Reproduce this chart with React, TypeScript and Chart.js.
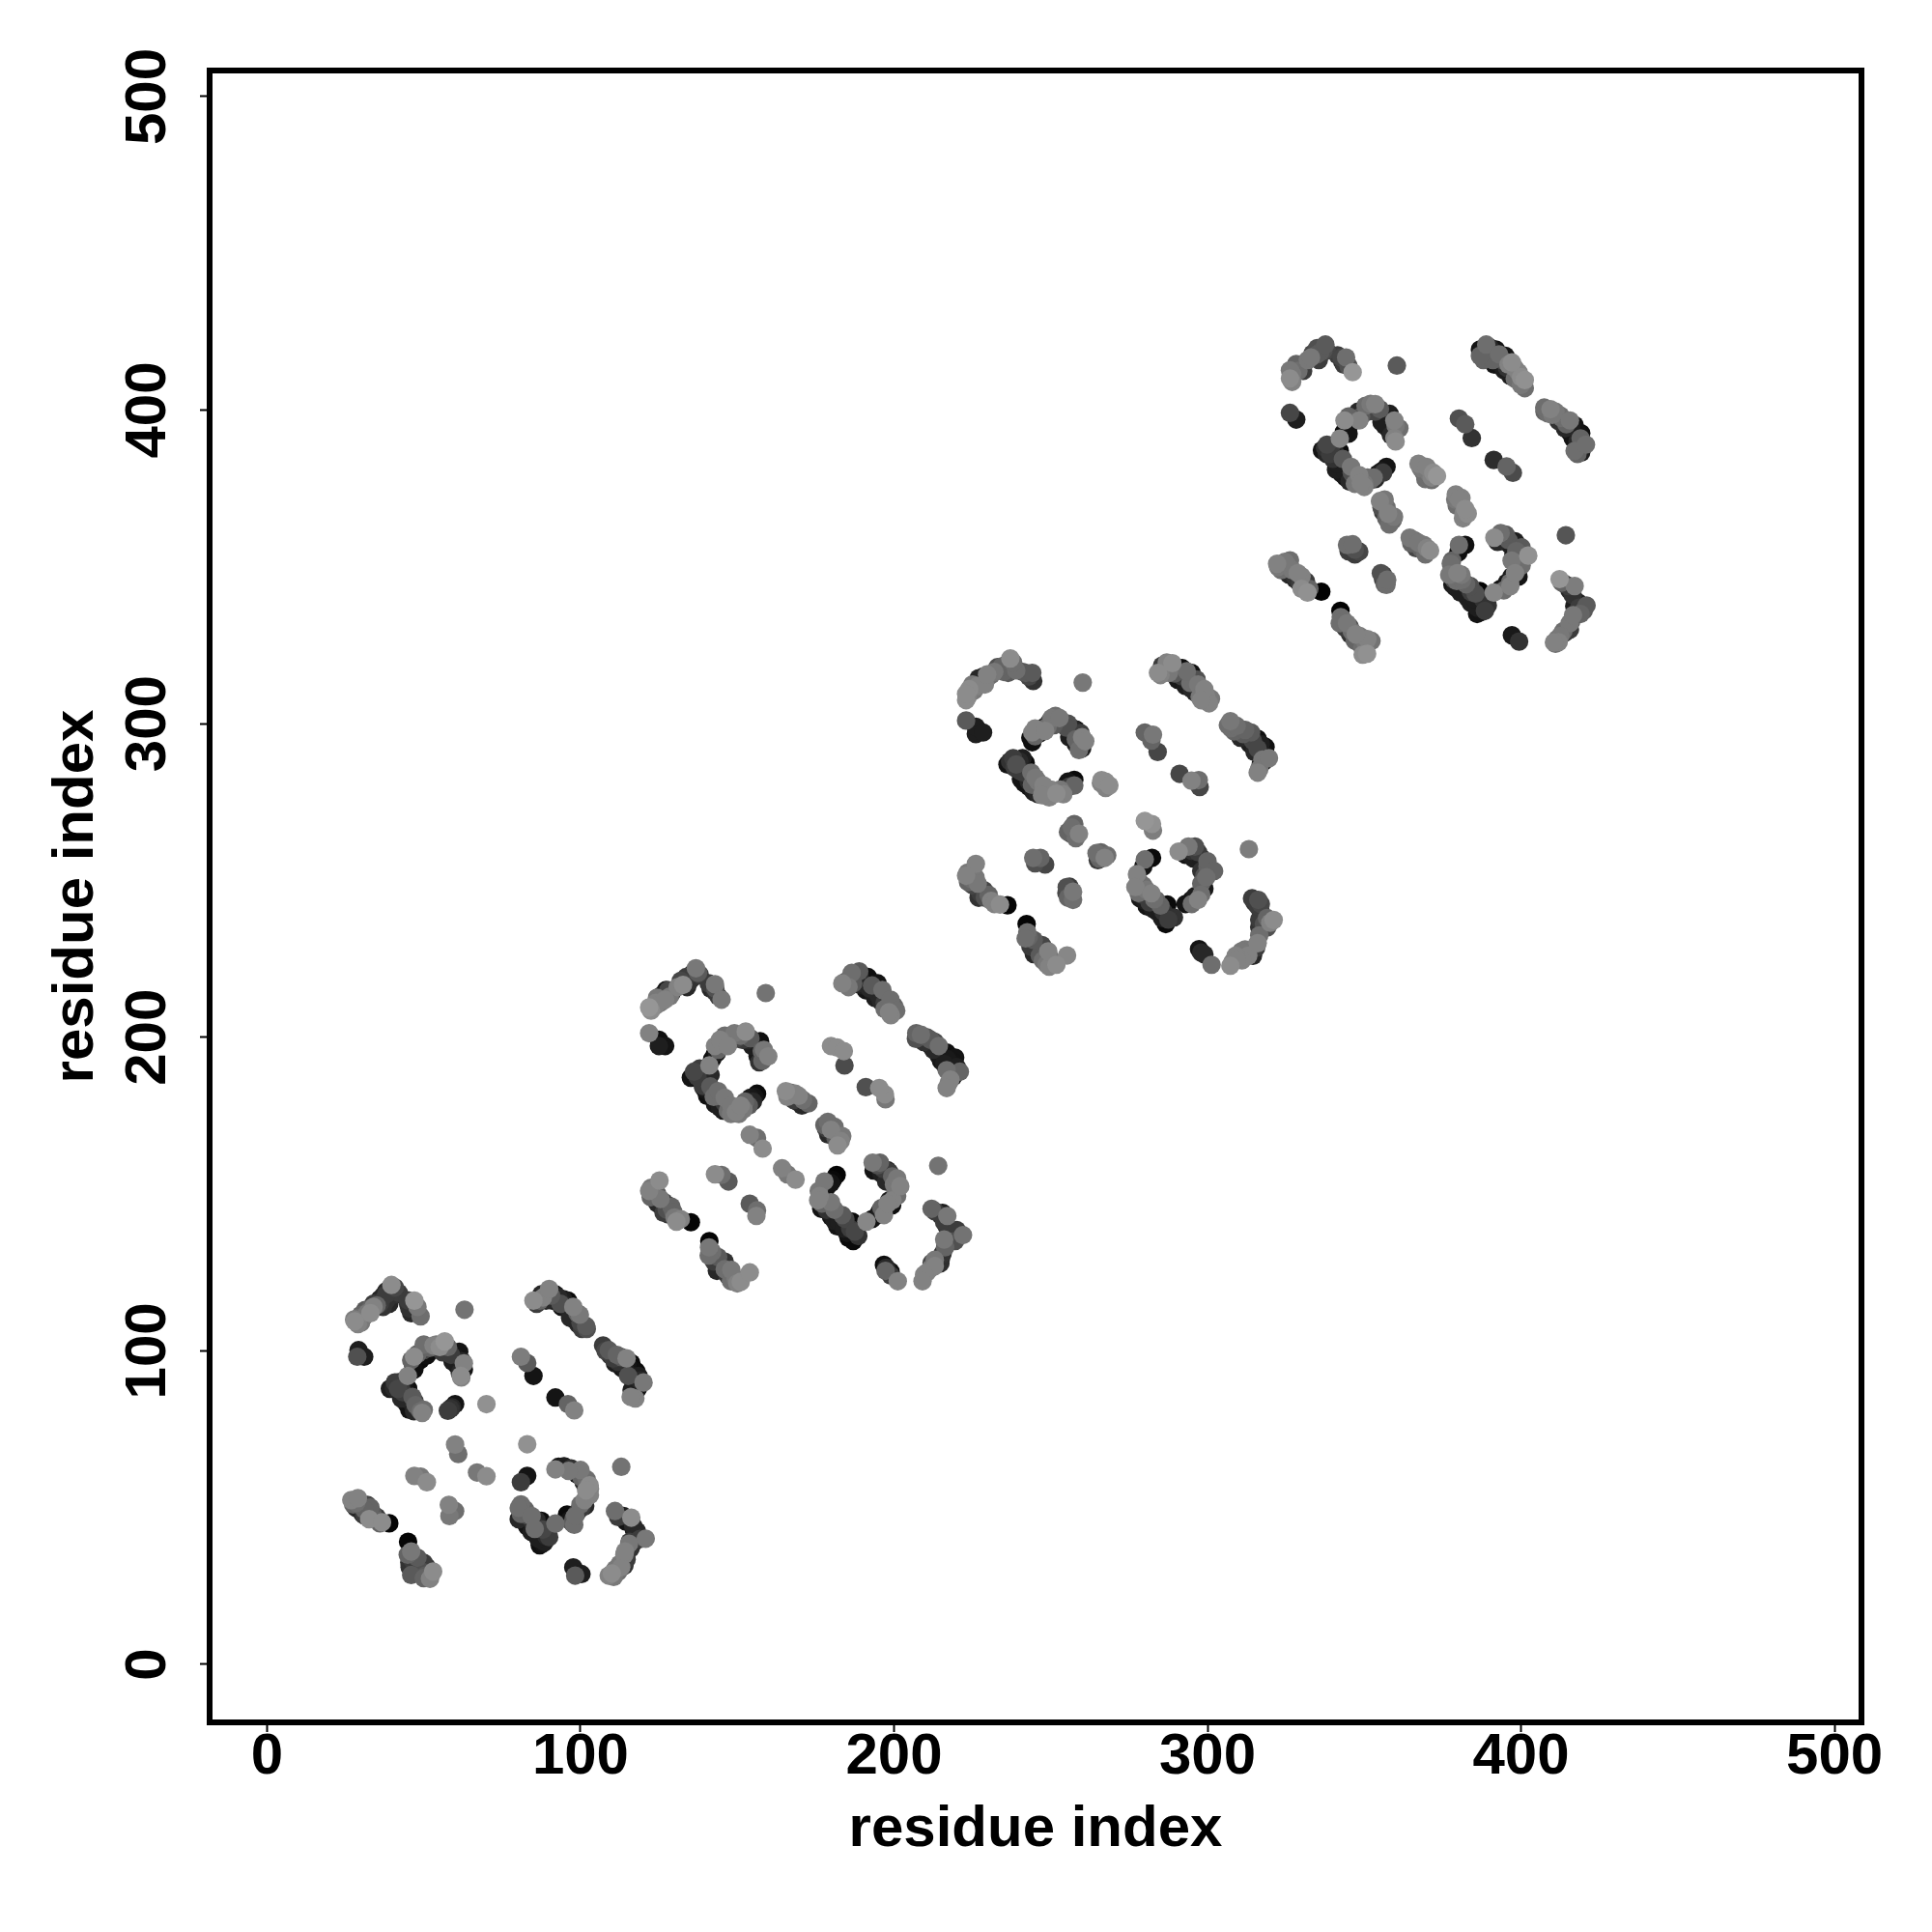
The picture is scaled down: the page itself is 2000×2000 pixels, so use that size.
import React, { useEffect, useRef } from "react";
import { Chart, registerables } from "chart.js";

Chart.register(...registerables);

const tickValues = [0, 100, 200, 300, 400, 500];
const axisTitle = "residue index";

// [residue x, residue y, grey level] : the points lying beneath
const underA: number[][] = [
  [29,108.5,130],[30,109,120],[31,111,110],[32,112,120],[33,113.5,100],[34,115,60],[36,116.5,30],[38,119,40],[39,119,30],[41,118,50],[42,118.5,60],[37,114,50],[39,115,40],[45,115,50],[46,112,40],[48,114,120],
  [42,90,50],[43,88.5,30],[44,89,20],[43,85.5,20],[44.5,85,40],[46,83.5,30],[47,84,60],[48,82,80],[45,88,15],[47,94,15],[46,97,100],[48,99,100],[51,98.5,15],[52,101,100],[54,102,120],[56,99.5,60],[58,100,50],[60,98,25],[60.5,95.5,20],[61.5,93,40],[62,91.5,130],[50,102,110],[59,82,40],[58.5,81.5,50],
  [89,116,40],[91,116,30],[93,117,40],[94,114,20],[95,114.5,40],[97,112,30],[98,110,40],[99,112,100],[100,109,70],[100.5,107,60],[102,107,80],[94.5,116.5,30],[86,115,60],[87,116,100],
  [108,100,70],[109.5,98.5,50],[111,96,30],[112,96.5,50],[113,98,90],[114.5,93.5,30],[115,95.5,20],[116.5,91,15],[116.5,94,15],[118.5,92,30],[119,90.5,40],[117,86,30],[117.5,84.8,130],
  [27.5,51,100],[28.5,51.5,110],[30,51,60],[30.5,48,30],[32,48,40],[34,46.5,100],[35,47,60],[36,45,100],[33,50,100],[31,47.5,60],
  [45.5,31,50],[46.5,33,60],[47,31,30],[49,31,40],[49.5,29.5,80],[51,31,50],[50,27.5,100],[46,36,120],[46,28.5,90],
  [93,63,20],[95,63,30],[97,62.5,50],[99,60.5,25],[100,62,120],[101,58,40],[103,56,130],[103,54,130],[101.5,50.5,40],[100,51,110],[99,48.5,60],[96.5,46,20],[97.5,45,90],[98,44.5,110],[102,59,110],
  [81,51,110],[81,48,100],[83,47.5,70],[83,44,20],[85,45,50],[86,46,40],[86,43,30],[87,42,20],[88,43,70],[88.5,39,30],[89,41,40],[87,38,15],
  [112,47,60],[114.5,45.5,20],[117,43,30],[118,42.5,40],[119,40,60],[117,39,40],[116,37,50],[115.5,38.5,120],[114,35,130],[114,31.5,50],[112.5,32,120],[112,29.5,110],[110,29,140],[113,31,130],
];

const underB: number[][] = [
  [122.5,208.5,140],[124,211,130],[125.5,211,120],[126,213.5,30],[129,214,40],[128.5,213,120],[131,216,130],[132,218,70],[134,216,40],[135,218.5,30],[136,219,50],[137.5,220.5,90],[138,220,60],[141.5,215.5,40],[143,215.5,80],[144,213,60],
  [137,189,50],[138,190,60],[139,186,30],[139,184.5,60],[140.5,186,20],[141.5,188,40],[142,193,15],[143.5,195,30],[144,196,100],[145,198,20],[146,200.5,110],[148,199,40],[149.5,199.5,70],[151,200.5,110],[153,199,40],[155,197.5,30],[156,196.5,15],[156.5,194,25],[158,192.5,100],[158.5,196,120],[157,192,50],
  [140,183,20],[141.5,182,20],[142.5,181,110],[144,180,30],[144.5,177.5,30],[146,179,60],[147,176.5,110],[148,175.5,120],[150.5,175.5,120],[152,177,120],[152.5,179.5,100],[155,179.5,40],[155.5,181,20],[147,178,30],
  [166,181,130],[168,180,60],[169,179.5,40],[171,180,110],[168.5,182,130],
  [177.8,172,100],[179,169,40],[181,168.5,60],[181,171.5,110],[182,165.5,140],[183.5,168.5,120],
  [185,218,60],[185.5,216,120],[186.5,220.5,110],[189,219.5,40],[188,217,40],[190,216.5,30],[191,215,20],[193,214.5,30],[193,216.5,90],[194,212.5,30],[195,213.5,40],[197,211,60],[197,209,110],[199,207,130],[200,210,100],
  [207,199.5,80],[209.5,198.5,50],[210.5,200,90],[211.5,197.5,30],[212.5,196,40],[213,198.5,70],[215,192.5,20],[216,191.5,30],[217,193,25],[219.5,193.5,20],[220,190.5,30],[218,186.5,130],[217.5,185.5,120],
  [122.5,152,120],[123,150,100],[124.5,150,90],[124.5,147,40],[126.5,147.5,60],[127.5,145,80],[129,146,100],[130,142.5,120],[132,142,130],[128,143.5,50],
  [141,133,120],[142,131.5,110],[142.5,128.5,60],[144,128,40],[145,127.5,40],[146,126,110],[147,124,60],[148.5,124,90],[149.5,123,120],[150,121.5,130],
  [176,151,120],[178.5,152,20],[180.5,154.5,10],[177,147,100],[178,147.5,60],[178.5,145,50],[179,144.5,30],[181,145,110],[181,141.5,30],[182.5,141,30],[183,140,20],[184.5,142,70],[184,139,30],[186,139,60],[185.5,136,10],[187.5,138,70],
  [193,142,20],[195.5,144.5,30],[196,145.5,100],[198.5,148,30],[199.5,148,130],[200.5,151,110],[200,153,120],[198.5,157,60],[196.5,158,60],[195.5,160,100],[193.5,157.5,20],[196,156.5,30],[201,155,120],
  [213,144.5,60],[215.5,144,30],[216,141,60],[217.5,138.5,50],[220,138.5,60],[219.5,135,80],[216,135.5,120],[215.5,131,50],[215,129.5,40],[213,129,120],[212,128,70],[210.5,125,130],[213,127,130],
  [197.5,126.5,40],[199,124,60],
];

const underC: number[][] = [
  [223.5,308.5,130],[224,311,140],[225,312.5,120],[226.5,312,130],[227,314.5,40],[228.5,315,20],[229,312.5,130],[231,315.5,110],[232,316.5,120],[233,318,80],[235,316.5,100],[236,319,90],[238,318,100],[239,317,110],[241,316.5,80],[243,315,70],
  [237,288,50],[238.5,286,60],[240,288,40],[241,289,30],[240,285,60],[241.5,281,20],[242.5,284,30],[243,281.5,40],[244,280.5,100],[245,279.5,30],[246,281.5,120],[246,277.5,40],[248.5,278.5,130],[249.5,276.5,130],[250,279,130],[253,279,120],[254,277.5,130],[255.5,281.5,20],[256,280,60],[253,278,100],
  [243.5,295.5,15],[245,296,100],[245,298.5,130],[246.5,297,15],[249,299,110],[249.5,300.5,60],[251,299.5,90],[251.5,302.5,110],[253.5,300.5,80],[255.5,300,80],[256.5,297,30],[257,298.5,40],[258,293.5,30],[258,295,100],[259.5,297,60],[257.5,296,30],
  [266,281,130],[267.5,281.5,140],[267.5,279.5,130],
  [255.5,265.5,100],[257.5,266,60],[258,263.5,110],[257.5,268,100],[265.5,257,100],[265,256.5,60],[266,259,100],[268,258,110],
  [245,255.5,80],[246,256,60],[247,256,60],[255,246,70],[256,245,60],[256,248,60],[255.5,244.5,100],
  [285.5,318.5,60],[285,315.5,130],[287,319.5,130],[288.5,317.5,30],[290,318,15],[289.5,316,90],[290.5,314,25],[292,315,60],[293,312,30],[294.5,313,110],[295,311,40],[297,312.5,120],[297.5,308.5,120],[299.5,309,130],[300.5,306.5,130],
  [306.5,299.5,110],[307.5,298.5,110],[308.5,297.5,100],[310,298.5,90],[310.5,295.5,40],[312,298,100],[313.5,293.5,30],[314.5,294.5,70],[315,291,40],[317,293.5,30],[318,290.5,20],[317.5,288.5,120],[318,288,30],[316.5,285.5,120],
  [223.5,252.5,120],[224.5,250.5,110],[225,248.5,70],[226,251,120],[226.5,247.5,50],[227.5,246,60],[229,244.5,80],[231,243.5,130],[232,242.5,130],
  [242.5,233.5,110],[243,232,100],[243.5,229,60],[245.5,229.5,50],[245.5,228,60],[246.5,226,90],[247.5,224.5,110],[250,225,120],[249.5,222.5,130],
  [278,250,110],[278,246,110],[279,245.5,60],[280.5,247,120],[280,243.5,30],[281.5,243,60],[282.5,241,30],[283,244,110],[284,240,30],[285,242,100],[285.5,238,30],[286,240,50],[287.5,237.5,60],
  [293,242.5,20],[295,242.5,110],[296,245,30],[298,245.5,110],[298,249,100],[299,251.5,80],[298,253,50],[300,254.5,100],[299,255,30],[297,259,60],[295,259.5,50],[294,258.5,30],[295.5,257,30],
  [315,243,50],[317,242.5,70],[317,240,60],[316.5,237.5,60],[319,238,100],[320,236.5,130],[319,235,80],[316.5,232.5,110],[315.5,228.5,60],[314.5,226,40],[313,226,130],[312,228,120],[311,224.5,130],[309,226,130],[308,224,130],
  [298,227,40],
];

const underD: number[][] = [
  [327,409,130],[327,411.5,120],[329,412.5,110],[330.5,412.5,60],[331,415,50],[332,416,120],[333.5,418,70],[334,417,60],[335.5,416,60],[336,418.5,90],[337,419,80],[338,419,70],[341.5,417.5,60],[343.5,414.5,60],[345,414,80],[343,415.5,40],
  [337.5,388,50],[338,386,40],[339.5,388.5,60],[340,384.5,50],[340.5,387,40],[341,381,30],[342.5,383,20],[344,380.5,30],[344,378.5,20],[346,380,80],[346.5,378,30],[347,376.5,120],[350,376.5,120],[351,378.5,110],[350,375.5,130],[353,378.5,110],[353.5,378,40],[355.5,380.5,30],[356,380,60],
  [343.5,393,15],[345,392.5,20],[345,398,100],[346.5,396.5,15],[348,399.5,40],[349,398,90],[351,399.5,70],[352,402,120],[353.5,399.5,70],[355.5,398.5,30],[357,397.5,20],[356.5,395,30],[358,393.5,25],[360,395,120],[358.5,392,40],[360,390,140],
  [368,381.5,120],[369,380,100],[370.5,380,120],[371.5,378.5,130],[372,380,140],[369.5,378,110],
  [379,371.5,120],[381,370,110],[379.5,369.5,110],[381,372,130],[381.5,365.5,130],[383,367,140],
  [355.5,369,80],[356,367.5,60],[356.5,371.5,120],[357,365.5,100],[358,366,60],[358,363.5,110],[359.5,366,120],
  [365,357.5,100],[366,358.5,110],[366.5,356,70],[368,356,100],[369,357,120],[370,356,130],[369.5,354,110],
  [345,355,60],[347,355.5,80],[347,354,60],[356,346,60],[356,347.5,60],[356.5,344.5,100],
  [387.5,418,30],[388,416,100],[390,420,40],[390,417.5,30],[391,416,100],[391.5,414.5,20],[393,415,25],[394,416,80],[395.5,413.5,50],[396,414.5,130],[396.5,411,30],[398,413.5,130],[398,410,110],[400,408,120],[400,410.5,140],
  [407.5,399.5,100],[408.5,399,110],[410,398.5,120],[411,399.5,120],[412,396.5,50],[413,397.5,110],[414.5,395.5,100],[415.5,393,15],[416,394.5,30],[416.5,391,20],[418,393,20],[418,390,40],[419,388,30],[419,391,100],[418,386,100],
  [322.5,350,120],[323.5,349,110],[324,351,100],[325,349.5,80],[325.5,350.5,120],[326,347.5,40],[327,349,120],[328,346,40],[329.5,344.5,60],[330,347,130],[330,343,140],[332.5,343,100],
  [342.5,334,110],[343,333.5,110],[344,330.5,60],[344.5,332,120],[345.5,328.5,50],[346,329.5,110],[347,326.5,100],[348,326,40],[348.5,328,120],[349.5,322,140],[350.5,325.5,120],[351,327,130],
  [378,349,110],[378,352,100],[378.5,346,80],[379,343.5,30],[379.5,345.5,110],[381,347.5,120],[382,342,30],[382.5,344.5,100],[383,340,30],[384,342,60],[384,338.5,30],[385.5,341.5,80],[386,337,30],[386,335,20],[388,339.5,50],[388.5,336,60],
  [393.5,343,20],[394.5,342.5,110],[395.5,345,25],[396.5,345,110],[397,347,30],[399,349.5,90],[398.5,351,110],[397,352,120],[398.5,355,100],[396.5,357,30],[396,358.5,90],[394,360,80],[392.5,358,40],
  [413,345,100],[414,344.5,50],[415.5,342.5,40],[416.5,341,50],[417,337.5,30],[418.5,337,60],[420,336,90],[419,335,100],[416,332.5,100],[415.5,332,120],[414,329,60],[413.5,329.5,110],[411.5,327,120],[411,325.5,110],[412,326,130],
];

// [residue x, residue y, grey level] : the points lying on top
const contactsA: number[][] = [
  [28,109.4,140],[27.8,110,125],[29,110.4,110],[30,111.5,100],[31.3,113,90],[33,112,140],[34,114,130],[35,114.5,100],[36,115,60],[37,116,50],[37,117.5,40],[38,116,50],[38,118,60],[39.7,121,140],[40.8,120.2,70],
  [44.9,116.1,60],[45.4,113.5,50],[47.4,113,40],[47,116,150],[49,111,110],[63,113.1,115],
  [28.8,98.1,80],[29.2,100.2,30],[31,98.1,30],
  [39.2,87.9,30],[40.8,89.9,60],[40.5,88,40],[41.8,87.9,70],[43.3,86.8,60],[44.9,87.9,10],[44.9,92,130],[46.6,95.6,10],[46.9,98.1,140],[49,97.1,10],[50,100.2,70],[53.1,101.7,130],[55.1,101.2,140],[56.7,103,150],[57.7,101.2,100],[58.7,98.7,60],[61.3,99.7,20],[59.2,96.6,30],[62.3,96.6,40],[61.8,92,140],[62.8,94,20],[62.8,96,130],
  [42.8,84.8,40],[44.4,83.3,20],[46.4,85.3,90],[45.4,81.2,20],[46.9,80.7,40],[47.4,82.7,100],[49,80.7,110],[50,81.2,110],[49.5,80.2,130],
  [57.7,80.9,60],[60,83,20],[70,83,145],
  [60,70.1,130],[61,67.1,110],[47,60.1,130],[49,59.9,120],[51,58.1,140],[67,61.2,120],[70,60,140],[58,50.9,130],[58.2,47.3,120],[60,48.9,110],
  [83,70.2,145],[83,60.1,20],[81,58.1,60],[113,63,115],
  [81,98.1,125],[83,96.1,90],[85,92,20],[92,85.1,20],[96,83,100],[98,81,130],
  [85,116,140],[87.5,118,40],[88,117,130],[90,119.7,130],[90.6,117.6,90],[92,118,20],[93.6,115,80],[96,116,10],[95.7,113.5,30],[97.7,114,130],[96.7,110.5,40],[99.8,111.5,120],[99.3,108.4,40],[101.8,107.9,90],
  [107.2,101.7,60],[109,100.2,90],[110.5,97.5,60],[111.6,98.7,100],[114.7,97.6,130],[113.2,94.5,20],[116.2,96.1,10],[117.8,93.5,10],[115.2,92,80],[116,85.3,130],[116.3,87.5,30],[117.3,89.4,10],[118.3,87.9,20],[120.1,89.9,120],
  [26.9,52.4,130],[29,53,130],[28.4,49.9,40],[31,49.4,100],[32,50.9,70],[32.6,46.3,140],[33.6,48.3,90],[36.7,45.3,140],[39,45,5],
  [45,39.1,5],[44.9,35,100],[45.4,32.5,50],[48,34,90],[47.4,29.9,40],[50,32.4,60],[50.5,28.3,90],[52,27.3,130],[53,29.6,140],
  [92,62.2,130],[94.7,63.2,30],[96.2,61.7,120],[98.8,61.7,20],[100.3,59.6,100],[102.9,57.1,140],[101.8,55.5,140],[101.3,52.4,130],[100.3,49.9,60],[95.7,47.8,10],[98.3,47.3,110],[97.8,46.5,90],[92,44.9,110],
  [80.3,49.9,110],[82.3,49.4,100],[84.4,47.3,110],[80.3,46.3,40],[82.3,45.3,20],[87.5,45.8,10],[84.4,42.2,30],[85.4,43.2,110],[86.5,40.1,30],[88,38.6,20],[90,40.6,60],
  [111,48.9,110],[113.7,47.3,30],[116.2,46.8,140],[116.8,44.2,40],[115.7,39.1,60],[118.3,41.2,40],[120.8,40.1,120],[114.2,36,130],[114.7,33.5,60],[111.1,30.4,120],[109,28.3,130],[110.6,27.9,120],
  [98.3,28.3,90],[97.7,30.9,30],[100.3,28.8,30],
];

const contactsB: number[][] = [
  [121.9,209.5,150],[123.9,210,130],[124.4,212.6,120],[127,212,130],[127.3,215.1,20],[128,215,70],[132.7,216.7,140],[134.7,217.7,50],[133.7,219.2,60],[135.7,220.3,40],[136.8,222,120],
  [142.9,214.6,50],[140.9,217.2,60],[142.9,216.9,120],[145,212,120],[159.1,214.1,115],
  [121.9,201.3,130],[125,197.2,30],[125,199.2,15],[127,197.2,20],
  [135.2,187.1,20],[136.2,189,70],[137.3,187.4,60],[138.8,188,40],[140.9,187.1,15],[142.9,194.6,15],[141.1,191,130],[142.9,197.2,130],[146.5,199.2,15],[144.5,199.2,130],[147,197.2,130],[149.1,201.3,120],[151.6,199.2,60],[152.7,201.8,140],[154.2,199.7,90],[154.7,197.2,30],[157.3,198.7,15],[157.3,193.1,20],[157.8,195.6,100],[159.9,193.9,130],
  [139.3,183.8,25],[141.4,184.3,90],[140.4,181.3,15],[143.9,182.8,110],[142.9,178.7,25],[146,180.7,120],[145.5,176.6,25],[148.1,178.2,120],[149.6,176.1,130],[151.1,178.2,130],[153.7,178.2,90],[154.2,180.7,25],[156.3,182,10],
  [165.5,182.8,140],[167,182.3,110],[169.6,181.3,130],[170.6,178.2,40],[172.7,178.9,100],
  [178.3,171,60],[178.9,173,110],[179.9,170.5,130],[181.5,167.5,90],[183,166.9,130],
  [154,168.9,130],[156.3,167.9,110],[158.1,164.5,140],[164.3,158.2,130],[166,156.3,120],[168.6,154.6,140],
  [142.9,156.3,140],[145,156.1,110],[147.2,154,90],[154,146.9,90],[156.1,143,130],[156.3,144.8,110],
  [184.2,191,75],[179.9,197.2,140],[181.9,196.7,140],[184,195.6,140],[191,184.1,80],[197.3,180.2,120],[197.1,181.8,140],[195.3,183.8,140],
  [183.5,217.2,130],[186.6,219.2,20],[187,217.2,90],[188.9,221,90],[192.2,215.6,40],[191.7,219.2,15],[194.8,217.2,20],[196.3,215.1,110],[195.8,211.5,40],[198.9,212,110],[198.4,208,130],[200.7,208.5,110],
  [207.1,201.3,100],[208.6,200.8,110],[211.7,199.2,90],[214.3,197.2,110],[214.3,194.1,25],[216.8,195.1,15],[218.9,192,20],[216.8,183.8,130],[216.8,189.5,110],[218.9,187.4,30],[221,189,100],
  [125.2,154.3,140],[121.9,151,130],[122.4,149,100],[125.5,148.4,120],[128,146.4,60],[126.5,144,60],[129.6,144.3,100],[130.6,141.2,140],[135.2,141,5],
  [141.1,135,5],[140.9,130.4,110],[143.9,129.9,90],[146,128.4,50],[143.5,125.5,40],[148.1,125.8,120],[148,122.2,110],[151.1,122,140],[154,125,140],
  [176.3,149.4,130],[175.8,148,130],[177.8,154,120],[179.9,153.5,20],[181.7,156.1,5],[179.9,147.4,120],[176.8,145.3,20],[183.5,143.3,90],[179.9,142.8,20],[181.9,139.7,20],[185,137.6,20],[187,135,10],[186.6,141.2,10],[188.6,136.6,50],[191.2,141.2,135],
  [194.8,143.3,15],[196.8,143.3,130],[199.4,146.4,15],[197.9,146.9,130],[201,149.4,110],[197.5,154,40],[197.9,157.6,30],[194.8,159.2,80],[193.2,160,120],[199.4,155.6,100],[202,152.5,130],
  [214.1,159,115],
  [212,145.3,100],[214.8,143.3,40],[216.8,139.7,40],[217,143,120],[218.9,136.1,50],[222,136.9,115],[216.3,133,100],[214.8,127.9,45],[211.7,126.3,120],[209.6,124.3,130],[209.1,122.2,130],
  [196.8,127.4,15],[197.3,125.5,100],[198.9,125.3,15],[201.2,122.2,130],
];

const contactsC: number[][] = [
  [223,307.5,140],[223,309.5,140],[225.6,310.6,120],[227.7,313.6,25],[229.7,315.7,130],[234.4,318.3,100],[236.4,316.2,90],[237.1,320.8,140],[238,319.5,110],
  [244.4,313.6,50],[242,316.2,90],[244.1,316.2,90],[260.2,313.1,120],
  [223,301,90],[226.1,296.7,30],[226.1,299,30],[228.4,297.2,30],
  [236.2,287,20],[238,289,60],[239,287,80],[240.5,282.3,20],[241,284.5,60],[242,287.5,10],[243.8,284.4,110],[243.1,279.8,20],[245.1,282.8,120],[244.6,278.2,30],[247.7,280.3,130],[247.2,277.2,130],[251.8,277.7,140],[254.7,280.1,20],[257.5,280.3,100],[257.5,282.1,10],
  [244.1,294.1,15],[244.1,297.2,130],[248.2,297.7,130],[247.7,298.8,15],[250.3,301.8,120],[252.8,301.8,120],[254.9,298.8,80],[258,298.2,20],[255.9,295.7,30],[259,291.6,110],[260,292.1,30],[260,295.7,130],[261,294.4,130],
  [266.2,282,140],[268.7,280.3,140],
  [256.4,264.9,60],[256.7,266.9,110],[259,264.9,130],[264.6,258.7,110],[267.2,257.2,130],[244.4,257.2,110],[246.7,257.2,100],[248.2,255.1,70],[255.1,247.9,80],[257.1,246.4,120],[257.1,243.8,110],
  [280,297.2,100],[282.6,296.5,120],[282.1,294.6,100],[284.1,291,70],[291.1,284,70],[294.9,281.8,130],[297.5,279.8,70],[297.2,282,110],
  [280,269,150],[282.6,265.9,125],[282.3,268,145],
  [284.2,316.2,140],[286.7,317.2,30],[288.8,319.3,140],[287.7,316.2,120],[291.9,317.7,15],[293.4,316.7,110],[294.9,316.2,15],[292.9,313.6,30],[296.5,314.1,80],[296,310,30],[299,311,130],[298,307.5,130],[301.1,308,120],
  [307.3,300.8,120],[309.3,299.3,110],[311.4,296.7,90],[313.9,297.2,90],[312.4,295.2,25],[316,295.2,15],[318.5,292.6,15],[316,292,70],[316,284.4,130],[317,287,25],[319.6,289,120],
  [226.1,255.3,130],[223,251.5,130],[223.6,249.5,100],[226.7,249,120],[228.7,246.9,70],[227,244.5,50],[230.2,245.4,100],[233.8,242.3,140],[236.2,242.1,5],
  [242.3,236.1,5],[242,231.5,110],[244.6,231,90],[247.2,229.4,70],[244.6,226.5,40],[249.2,227.4,130],[248.7,223.3,120],[251.8,223.1,140],[255.2,226.1,135],
  [280,256.7,110],[279.5,254.4,20],[282.3,257.2,10],[277.5,252,130],[277,247.9,130],[279.5,248.4,110],[282.1,245.9,130],[278.5,244.3,25],[283.6,243.8,100],[280.6,241.8,20],[287.2,242.3,10],[285.2,240.2,30],[286.7,236.1,10],[289.3,238.2,50],
  [294.9,243.8,15],[297,243.8,130],[299,247.4,25],[299.6,251,110],[298,257.2,30],[296,260.8,80],[293.9,260.8,120],[290.8,259.2,140],[292.9,258.2,20],[300,256.1,100],[302.1,253,100],
  [313.2,260,125],
  [314.2,244.3,60],[316.2,243.8,80],[316,241.8,60],[318,236.1,80],[316.5,235.1,50],[321.1,237.4,140],[316,230,130],[313.9,227.4,25],[310.8,227.4,120],[309.3,224.8,130],[307.3,222.8,140],
  [297.3,228.1,20],[299,226.4,40],[301.3,223.1,110],
];

const contactsD: number[][] = [
  [326.3,410.1,140],[326.3,412.7,120],[328.3,414.7,100],[329.9,414.2,50],[333,416.8,120],[335,417.8,90],[335,419.8,80],[337.6,420.9,90],
  [342.7,416.8,70],[344.2,416.8,110],[346.3,412.1,150],[360.4,414.2,90],
  [326.3,399.1,70],[328.3,397,30],
  [336.5,387.2,20],[338.1,389,70],[339.1,386,60],[342.2,387,10],[342.2,390.9,135],[344.2,394.7,15],[343.7,396.7,140],[347.8,398.3,15],[348.4,396.7,130],[350.4,401.4,110],[353.5,401.9,130],[355,400.3,90],[358.1,398.8,30],[355.5,396.2,30],[359.6,391.1,130],[359.6,396.7,130],[361.2,394.2,110],
  [341.2,382.9,30],[343.2,384.4,90],[342.7,379.8,25],[345.8,381.9,120],[345.3,377.2,40],[348.4,379.3,130],[348.9,376.7,130],[352,377.7,100],[354.5,379.8,20],[357.1,381.9,20],
  [367.3,382.9,130],[369.9,381.9,130],[371.5,377.7,110],[373.2,379,150],
  [379.2,373.1,130],[380.2,371.6,130],[381.7,367,130],[382.2,368.5,140],
  [355,371,130],[357.1,369,110],[357.6,367,130],[359.1,364.9,100],
  [364.5,359.3,120],[367.3,357.7,120],[368.9,355.2,100],[371,355.2,140],
  [344.5,357,110],[346.3,357.2,110],[348.4,354.9,70],[355.3,348,80],[357.1,344.3,110],[357.3,345.9,110],
  [380.2,397.3,80],[382.2,395.5,90],[384.3,391.1,50],[391.3,384.1,45],[395.4,382,100],[397.4,380,75],
  [386.9,417.3,100],[386.9,419.3,20],[388.9,420.9,110],[392,419.3,20],[393,417.8,110],[395,417.3,20],[397.1,415.2,140],[394.6,412.7,30],[399.2,412.1,130],[401.2,407,110],[401.2,409.6,145],
  [407.4,400.8,110],[409.4,400.3,130],[412.5,398.3,110],[415.6,396.7,120],[414,394.2,40],[417.1,395.2,20],[419.2,392.6,15],[417.1,387,110],[419.2,386.5,30],[420.7,389,110],
  [322.2,351,130],[324.7,351.6,120],[326.3,352.1,110],[327.8,347,50],[328.8,348,130],[331.4,345.4,60],[331.9,341.8,145],[336.3,342.1,3],
  [342.4,336,3],[342.2,332,110],[345.3,331,80],[347.3,328.5,130],[349.4,327,60],[349.4,324.4,110],[350.9,322.3,145],[352.3,326.4,115],
  [380.2,357,110],[382.2,357,15],[380,354.6,15],[377.6,351,110],[377.1,347.5,120],[379.7,348,130],[381.2,345.9,110],[378.1,344.4,25],[383.8,343.9,80],[380.7,341.8,30],[386.9,342.3,5],[385.3,339.8,30],[387.4,335.6,20],[389.4,337.7,50],[391.3,341.8,135],
  [395.1,343.9,15],[396.6,343.9,130],[399.2,346.9,20],[398.1,348,130],[397.6,354.1,20],[395.1,360.3,90],[393.5,360.8,110],[391.5,359.3,140],[394,358.2,20],[398.1,358.2,30],[400.2,356.2,90],[400.2,350.5,110],[402.3,353.6,145],
  [414.3,360.1,85],
  [412.3,346.1,150],[415.1,343.9,60],[417.1,343.9,125],[418.2,338.7,30],[420.9,337.7,90],[416.6,334.6,120],[415.6,330,60],[412.5,328,120],[410.5,325.9,130],
  [397.1,328.2,25],[399.4,326.2,50],
];

// Darker points are painted first, so lighter ones sit over them.
const layers = [
  [...underA, ...contactsA],
  [...underB, ...contactsB],
  [...underC, ...contactsC],
  [...underD, ...contactsD],
].map((c) => [...c].sort((p, q) => p[2] - q[2]));

const frame = {
  id: "frame",
  afterDraw(chart: any) {
    const { ctx, chartArea: a } = chart;
    ctx.save();
    ctx.strokeStyle = "#000";
    ctx.lineWidth = 6;
    ctx.lineJoin = "miter";
    ctx.strokeRect(a.left, a.top, a.right - a.left, a.bottom - a.top);
    ctx.restore();
  },
};

const font = { family: "'Liberation Sans', Arial, sans-serif", size: 60, weight: "bold" as const };

export default function App() {
  const ref = useRef<HTMLCanvasElement>(null);
  useEffect(() => {
    const setTicks = (axis: any) => {
      axis.ticks = tickValues.map((value) => ({ value }));
    };
    const chart = new Chart(ref.current!, {
      type: "scatter",
      data: {
        datasets: layers.map((c) => ({
          data: c.map(([x, y]) => ({ x, y })),
          pointRadius: 9.6,
          pointBorderWidth: 0,
          pointBackgroundColor: c.map(([, , g]) => `rgb(${g},${g},${g})`),
        })),
      },
      options: {
        responsive: false,
        animation: false,
        layout: { padding: { top: 73, right: 73, left: 0, bottom: 0 } },
        plugins: { legend: { display: false }, tooltip: { enabled: false } },
        scales: {
          x: {
            type: "linear",
            min: -18.3,
            max: 508.6,
            afterBuildTicks: setTicks,
            afterFit: (axis: any) => { axis.height = 217; },
            border: { display: false },
            grid: { drawOnChartArea: false, drawTicks: true, tickLength: 10, tickWidth: 2, tickColor: "#000" },
            ticks: { color: "#000", font, padding: -10, autoSkip: false, maxRotation: 0, minRotation: 0 },
            title: { display: true, text: axisTitle, color: "#000", font, padding: { top: 0, bottom: 70 } },
          },
          y: {
            type: "linear",
            min: -18.5,
            max: 508.3,
            afterBuildTicks: setTicks,
            afterFit: (axis: any) => { axis.width = 217; },
            border: { display: false },
            grid: { drawOnChartArea: false, drawTicks: true, tickLength: 10, tickWidth: 2, tickColor: "#000" },
            ticks: { color: "#000", font, padding: 2, autoSkip: false, minRotation: 90, maxRotation: 90, crossAlign: "center" },
            title: { display: true, text: axisTitle, color: "#000", font, padding: { top: 43, bottom: 0 } },
          },
        },
      },
      plugins: [frame],
    } as any);
    return () => chart.destroy();
  }, []);
  return (
    <div style={{ position: "absolute", left: 0, top: 0, width: 2000, height: 2000, background: "#fff" }}>
      <canvas ref={ref} width={2000} height={2000} style={{ display: "block" }} />
    </div>
  );
}
